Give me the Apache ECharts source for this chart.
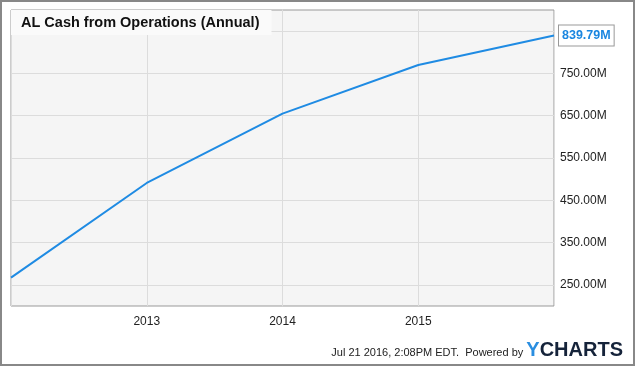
<!DOCTYPE html>
<html><head><meta charset="utf-8">
<script src="https://cdn.jsdelivr.net/npm/echarts@6/dist/echarts.min.js"></script>
<style>html,body{margin:0;padding:0;background:#fff}#c{width:635px;height:366px}</style>
</head><body><div id="c"></div>
<script>
const categories = ['2012', '2013', '2014', '2015', '2016'];
const xLabels = ['', '2013', '2014', '2015', ''];
const values = [267, 491, 655, 770, 839.79];
const yTicks = [250, 350, 450, 550, 650, 750, 850];

const chart = echarts.init(document.getElementById('c'));
const last = values.length - 1;
chart.setOption({
  animation: false,
  textStyle: { fontFamily: 'Liberation Sans, Arial, sans-serif' },
  title: {
    text: 'AL Cash from Operations (Annual)',
    left: 11, top: 10,
    padding: [5, 12, 5, 10],
    backgroundColor: '#fafafa',
    textStyle: { fontSize: 14.5, fontWeight: 'bold', color: '#111', fontFamily: 'Liberation Sans, Arial, sans-serif' }
  },
  grid: { left: 11, right: 81, top: 10, bottom: 60, show: true, backgroundColor: '#f5f5f5', borderColor: '#999', borderWidth: 1 },
  xAxis: {
    type: 'category', data: categories, boundaryGap: false,
    axisLine: { show: false }, axisTick: { show: false },
    axisLabel: { color: '#222', fontSize: 12, margin: 10, formatter: (v, i) => xLabels[i] },
    splitLine: { show: true, lineStyle: { color: '#dcdcdc', width: 1 } }
  },
  yAxis: {
    type: 'value', position: 'right', min: 200, max: 900,
    axisLine: { show: false },
    axisTick: { show: false, customValues: yTicks },
    axisLabel: { color: '#222', fontSize: 12, margin: 6, customValues: yTicks, formatter: v => v.toFixed(2) + 'M' },
    splitLine: { show: true, customValues: yTicks, lineStyle: { color: '#dcdcdc', width: 1 } }
  },
  series: [{
    type: 'line', data: values.map((v, i) => i === last ? {
      value: v,
      label: {
        show: true, position: 'right', distance: 5,
        formatter: p => p.value.toFixed(2) + 'M',
        color: '#1a86e0', fontWeight: 'bold', fontSize: 12.5,
        backgroundColor: '#fff', borderColor: '#999', borderWidth: 1,
        padding: [4, 3, 3, 3]
      }
    } : v),
    symbol: 'circle', symbolSize: 0, showSymbol: true, clip: false,
    itemStyle: { color: '#1f8be3' },
    lineStyle: { color: '#1f8be3', width: 2 }, z: 5
  }],
  graphic: [
    { type: 'rect', shape: { x: 1, y: 1, width: 633, height: 364 }, style: { fill: 'none', stroke: '#888', lineWidth: 2 }, silent: true },
    { type: 'text', right: 12, bottom: 6, style: {
      text: '{a|Jul 21 2016, 2:08PM EDT.  Powered by }{y|Y}{c|CHARTS}',
      rich: {
        a: { fontSize: 11, fill: '#222', fontFamily: 'Liberation Sans, Arial, sans-serif', verticalAlign: 'bottom', padding: [0, 0, 2, 0] },
        y: { fontSize: 20, fontWeight: 'bold', fill: '#2a8ee0', fontFamily: 'Liberation Sans, Arial, sans-serif' },
        c: { fontSize: 20, fontWeight: 'bold', fill: '#15233a', fontFamily: 'Liberation Sans, Arial, sans-serif' }
      }
    } }
  ]
});
</script></body></html>
